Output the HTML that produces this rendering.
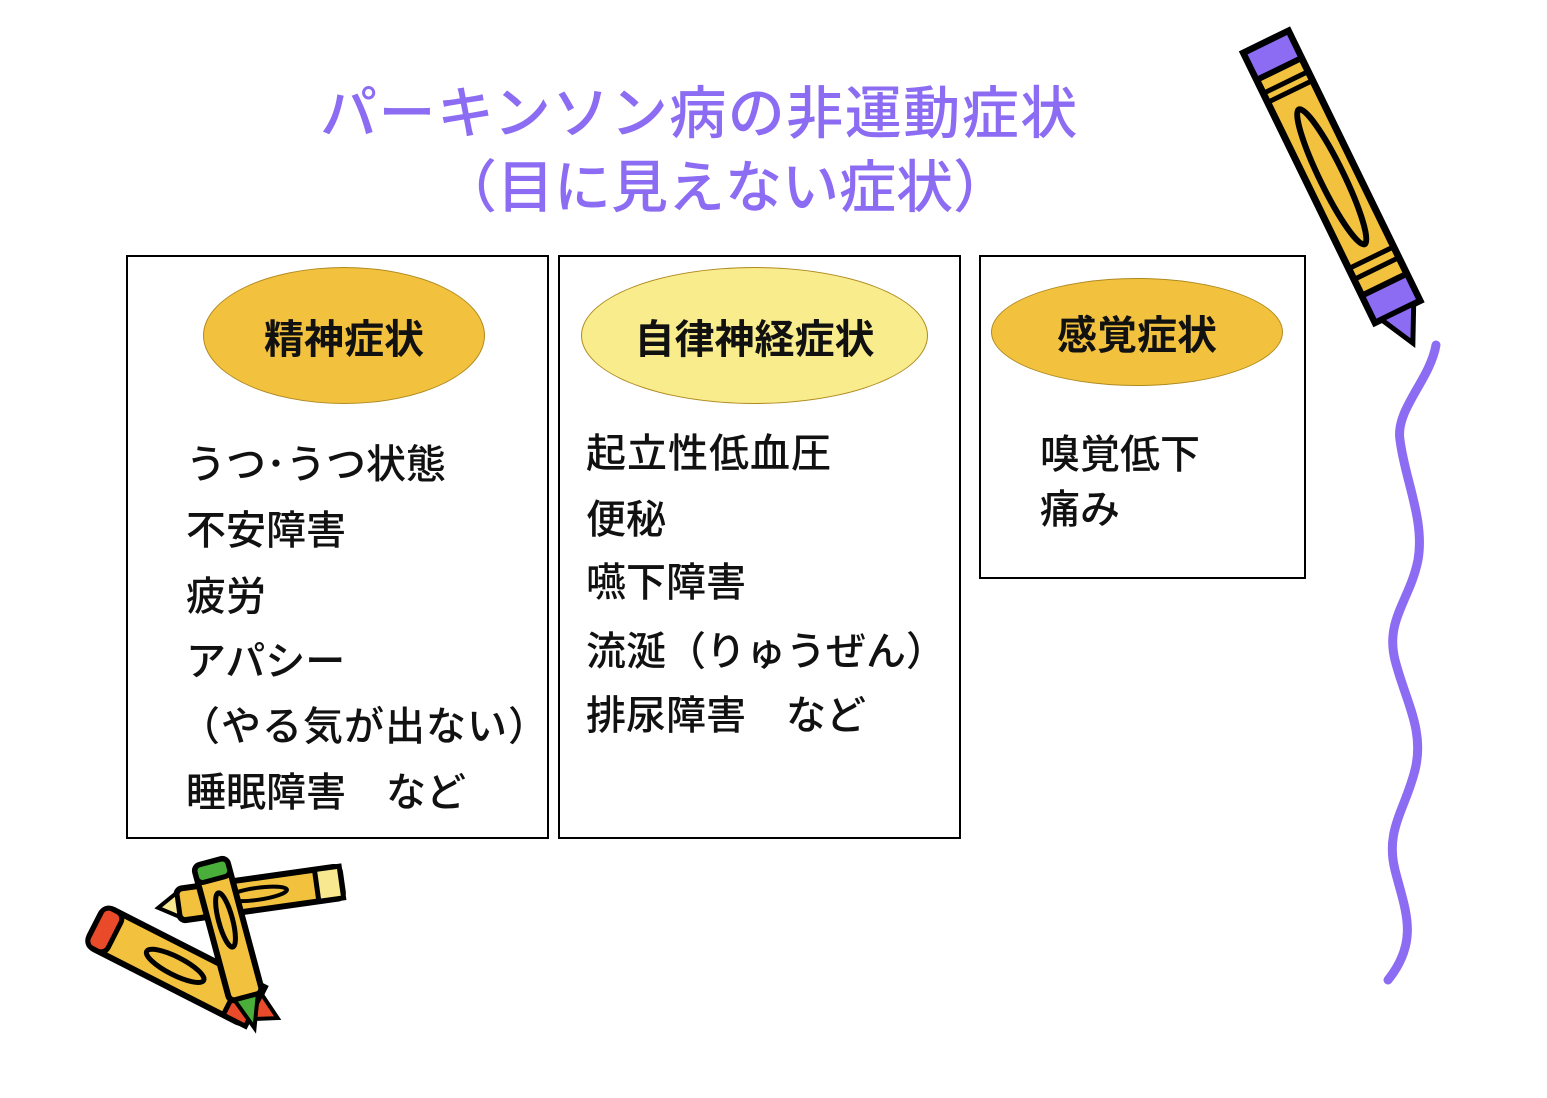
<!DOCTYPE html>
<html><head><meta charset="utf-8"><style>
body{margin:0;width:1547px;height:1098px;background:#fff;position:relative;overflow:hidden;font-family:"Liberation Sans","Noto Sans CJK JP",sans-serif}
.t{position:absolute;color:#8c6cf2;font-size:57px;white-space:nowrap;line-height:1;font-weight:500}
.box{position:absolute;border:2px solid #000;box-sizing:border-box}
.el{position:absolute;border:1.5px solid #b08a20;border-radius:50%;box-sizing:border-box;display:flex;align-items:center;justify-content:center;font-size:40px;font-weight:bold;color:#111}
.l{position:absolute;font-size:40px;color:#111;white-space:nowrap;line-height:1;font-weight:500}
svg{position:absolute;left:0;top:0}
</style></head><body>
<div class="t" style="left:320px;top:86px;letter-spacing:1.5px">パーキンソン病の非運動症状</div>
<div class="t" style="left:440px;top:160px">（目に見えない症状）</div>

<div class="box" style="left:126px;top:255px;width:423px;height:584px"></div>
<div class="box" style="left:558px;top:255px;width:403px;height:584px"></div>
<div class="box" style="left:979px;top:255px;width:327px;height:324px"></div>

<div class="el" style="left:203px;top:267px;width:282px;height:137px;background:#f2c23e">精神症状</div>
<div class="el" style="left:581px;top:267px;width:347px;height:137px;background:#f9ec8c">自律神経症状</div>
<div class="el" style="left:991px;top:278px;width:292px;height:108px;background:#f2c23e">感覚症状</div>

<div class="l" style="left:186px;top:445px">うつ･うつ状態</div>
<div class="l" style="left:186px;top:511px">不安障害</div>
<div class="l" style="left:186px;top:577px">疲労</div>
<div class="l" style="left:186px;top:642px">アパシー</div>
<div class="l" style="left:180px;top:707px;letter-spacing:1px">（やる気が出ない）</div>
<div class="l" style="left:186px;top:773px">睡眠障害　など</div>

<div class="l" style="left:586px;top:434px;letter-spacing:1px">起立性低血圧</div>
<div class="l" style="left:586px;top:500px">便秘</div>
<div class="l" style="left:586px;top:563px">嚥下障害</div>
<div class="l" style="left:586px;top:632px">流涎（りゅうぜん）</div>
<div class="l" style="left:586px;top:696px">排尿障害　など</div>

<div class="l" style="left:1040px;top:435px">嗅覚低下</div>
<div class="l" style="left:1040px;top:490px">痛み</div>

<svg width="1547" height="1098">
<path d="M1436,345 C1430,380 1395,410 1400,440 C1405,480 1425,520 1418,560 C1410,600 1385,620 1395,660 C1405,700 1425,730 1415,770 C1405,810 1385,830 1395,870 C1405,910 1420,940 1388,980" fill="none" stroke="#8c6cf2" stroke-width="9" stroke-linecap="round"/>
<g transform="translate(1266,42) rotate(64)">
<rect x="0" y="-25" width="300" height="50" fill="#f2c23e" stroke="#000" stroke-width="7"/>
<rect x="0" y="-25" width="30" height="50" fill="#8c6cf2" stroke="#000" stroke-width="6"/>
<rect x="270" y="-25" width="30" height="50" fill="#8c6cf2" stroke="#000" stroke-width="6"/>
<polygon points="300,-18 335,0 300,18" fill="#8c6cf2" stroke="#000" stroke-width="5"/>
<ellipse cx="150" cy="0" rx="75" ry="12" fill="none" stroke="#000" stroke-width="6"/>
<path d="M45,-25 v50 M55,-25 v50 M240,-25 v50 M252,-25 v50" stroke="#000" stroke-width="5"/>
</g>
<g transform="translate(178,905) rotate(-8)">
<rect x="0" y="-16" width="165" height="32" fill="#f2c23e" stroke="#000" stroke-width="6" rx="6"/>
<rect x="140" y="-16" width="25" height="32" fill="#f8e890" stroke="#000" stroke-width="5"/>
<polygon points="0,-12 -20,0 0,12" fill="#f8e890" stroke="#000" stroke-width="4"/>
<ellipse cx="80" cy="0" rx="30" ry="6" fill="none" stroke="#000" stroke-width="4"/>
</g>
<g transform="translate(95,925) rotate(27)">
<rect x="0" y="-22" width="180" height="44" fill="#f2c23e" stroke="#000" stroke-width="6" rx="10"/>
<rect x="0" y="-22" width="22" height="44" fill="#e84a2a" stroke="#000" stroke-width="5" rx="8"/>
<rect x="155" y="-22" width="25" height="44" fill="#e84a2a" stroke="#000" stroke-width="5"/>
<polygon points="180,-14 205,0 180,14" fill="#e84a2a" stroke="#000" stroke-width="4"/>
<ellipse cx="90" cy="0" rx="32" ry="9" fill="none" stroke="#000" stroke-width="5"/>
</g>
<g transform="translate(210,862) rotate(75)">
<rect x="0" y="-17" width="140" height="34" fill="#f2c23e" stroke="#000" stroke-width="6" rx="6"/>
<rect x="0" y="-17" width="18" height="34" fill="#4aae3a" stroke="#000" stroke-width="5" rx="6"/>
<polygon points="140,-12 172,0 140,12" fill="#4aae3a" stroke="#000" stroke-width="4"/>
<ellipse cx="60" cy="0" rx="28" ry="7" fill="none" stroke="#000" stroke-width="5"/>
</g>
</svg>
</body></html>
